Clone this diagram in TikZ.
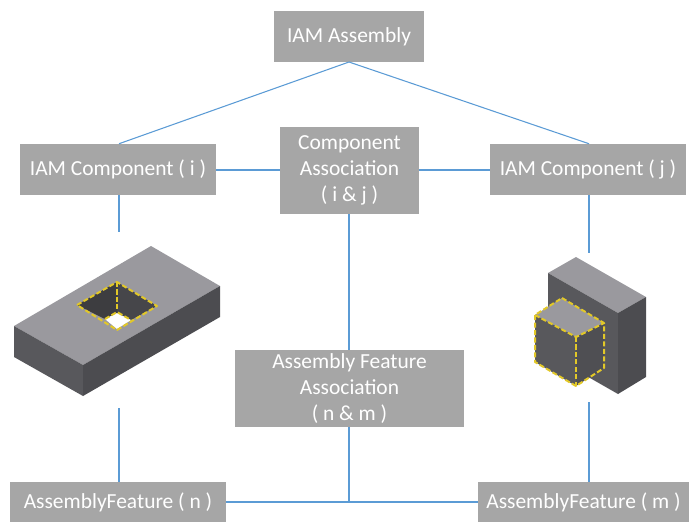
\documentclass[tikz,border=0pt]{standalone}
\usepackage{fontspec}
\setmainfont{Carlito}
\usetikzlibrary{positioning,calc}
\definecolor{boxgray}{RGB}{166,166,166}
\definecolor{linkblue}{RGB}{91,155,213}
\definecolor{edgeyellow}{RGB}{226,200,40}
\definecolor{solidtop}{RGB}{154,153,158}
\definecolor{solidleft}{RGB}{88,88,92}
\definecolor{solidright}{RGB}{76,76,80}
\begin{document}
\begin{tikzpicture}[
                x=0.75pt,y=-0.75pt,
                box/.style={fill=boxgray,text=white,align=center,inner sep=0pt,font=\fontsize{16.1}{19.6}\selectfont},
                link/.style={draw=linkblue,line width=0.8pt},
                dashedge/.style={draw=edgeyellow,line width=1.5pt,dashed,dash pattern=on 3.8pt off 1.8pt,line join=round}
            ]
                \useasboundingbox (0,0) rectangle (689,522);
                % boxes
                \node[box,minimum width=112.5pt,minimum height=38.25pt] (assembly) at (349,36.5) {IAM Assembly};
                \node[box,minimum width=147pt,minimum height=38.25pt] (compi) at (118,169.5) {IAM Component ( i )};
                \node[box,minimum width=104.25pt,minimum height=65.25pt] (compassoc) at (349.5,170.5) {Component\\Association\\( i \& j )};
                \node[box,minimum width=147pt,minimum height=38.25pt] (compj) at (588,169.5) {IAM Component ( j )};
                \node[box,minimum width=171.75pt,minimum height=57.75pt] (featassoc) at (349.5,388.5) {Assembly Feature\\Association\\( n \& m )};
                \node[box,minimum width=162pt,minimum height=30pt] (featn) at (118,502) {AssemblyFeature ( n )};
                \node[box,minimum width=158.25pt,minimum height=30pt] (featm) at (583.5,502) {AssemblyFeature ( m )};
                % free ends and joints
                \coordinate (top) at (349,62);
                \coordinate (row) at (349,170);
                \coordinate (plateup) at (119,232);
                \coordinate (platedown) at (119,408);
                \coordinate (blockup) at (589,253);
                \coordinate (blockdown) at (589,402);
                \coordinate (joint) at (349,502);
                % connectors
                \draw[link] (top) -- (plateup |- compi.north);
                \draw[link] (top) -- (blockup |- compj.north);
                \draw[link] (compi.east |- row) -- (compassoc.west |- row);
                \draw[link] (compassoc.east |- row) -- (compj.west |- row);
                \draw[link] (top |- compassoc.south) -- (top |- featassoc.north);
                \draw[link] (top |- featassoc.south) -- (joint);
                \draw[link] (featn) -- (featm);
                \draw[link] (plateup |- compi.south) -- (plateup);
                \draw[link] (platedown) -- (platedown |- featn.north);
                \draw[link] (blockup |- compj.south) -- (blockup);
                \draw[link] (blockdown) -- (blockdown |- featm.north);
                % plate with hole
                \fill[solidtop] (14,326) -- (151,246) -- (220,286) -- (83,365) -- cycle;
                \fill[solidleft] (14,326) -- (83,365) -- (83,396) -- (14,357) -- cycle;
                \fill[solidright] (83,365) -- (220,286) -- (220,317) -- (83,396) -- cycle;
                \fill[solidright!80!black] (77,305) -- (117,282) -- (117,313) -- (105,319) -- cycle;
                \fill[solidleft!80!black] (117,282) -- (157,306) -- (131,320) -- (117,313) -- cycle;
                \fill[white] (105,319) -- (117,313) -- (131,320) -- (117,329) -- cycle;
                \draw[dashedge] (77,305) -- (117,282) -- (157,306) -- (117,330) -- cycle;
                \draw[dashedge] (117,282) -- (117,310);
                \draw[dashedge] (105,319) -- (117,312) -- (131,320);
                % block with cube
                \fill[solidtop] (548,273) -- (576,257) -- (646,297) -- (618,313) -- cycle;
                \fill[solidleft] (548,273) -- (618,313) -- (618,394) -- (548,354) -- cycle;
                \fill[solidright] (618,313) -- (646,297) -- (646,377) -- (618,394) -- cycle;
                \fill[solidtop] (562,298) -- (604,323) -- (576,337) -- (535,315) -- cycle;
                \fill[solidleft] (535,315) -- (576,337) -- (576,386) -- (535,362) -- cycle;
                \fill[solidleft!90!black] (576,337) -- (604,323) -- (604,368) -- (576,386) -- cycle;
                \draw[dashedge] (562,298) -- (604,323) -- (604,368) -- (576,386) -- (535,362) -- (535,315) -- cycle;
                \draw[dashedge] (535,315) -- (576,337) -- (604,323);
                \draw[dashedge] (576,337) -- (576,386);
            \end{tikzpicture}
\end{document}
